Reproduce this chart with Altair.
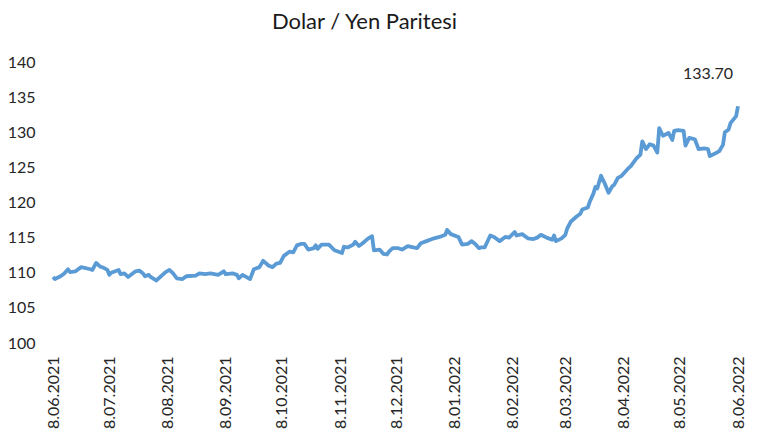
import altair as alt
import pandas as pd

dates = [
    "2021-06-08", "2021-06-09", "2021-06-12", "2021-06-14", "2021-06-16", "2021-06-17",
    "2021-06-20", "2021-06-23", "2021-06-28", "2021-06-29", "2021-07-01", "2021-07-03",
    "2021-07-05", "2021-07-07", "2021-07-08", "2021-07-09", "2021-07-13", "2021-07-14",
    "2021-07-16", "2021-07-18", "2021-07-22", "2021-07-24", "2021-07-26", "2021-07-27",
    "2021-07-29", "2021-07-30", "2021-08-02", "2021-08-07", "2021-08-09", "2021-08-11",
    "2021-08-13", "2021-08-16", "2021-08-18", "2021-08-23", "2021-08-25", "2021-08-28",
    "2021-08-31", "2021-09-02", "2021-09-04", "2021-09-07", "2021-09-08", "2021-09-12",
    "2021-09-14", "2021-09-15", "2021-09-17", "2021-09-21", "2021-09-23", "2021-09-26",
    "2021-09-28", "2021-10-01", "2021-10-03", "2021-10-05", "2021-10-07", "2021-10-09",
    "2021-10-12", "2021-10-14", "2021-10-16", "2021-10-18", "2021-10-20", "2021-10-22",
    "2021-10-25", "2021-10-26", "2021-10-27", "2021-10-29", "2021-11-02", "2021-11-05",
    "2021-11-09", "2021-11-10", "2021-11-12", "2021-11-15", "2021-11-16", "2021-11-18",
    "2021-11-20", "2021-11-23", "2021-11-25", "2021-11-26", "2021-11-29", "2021-12-01",
    "2021-12-03", "2021-12-04", "2021-12-06", "2021-12-09", "2021-12-11", "2021-12-14",
    "2021-12-17", "2021-12-19", "2021-12-21", "2021-12-24", "2021-12-27", "2021-12-28",
    "2021-12-31", "2022-01-03", "2022-01-04", "2022-01-06", "2022-01-10", "2022-01-12",
    "2022-01-15", "2022-01-17", "2022-01-19", "2022-01-21", "2022-01-22", "2022-01-24",
    "2022-01-27", "2022-01-29", "2022-02-01", "2022-02-04", "2022-02-06", "2022-02-09",
    "2022-02-10", "2022-02-13", "2022-02-16", "2022-02-19", "2022-02-21", "2022-02-23",
    "2022-02-26", "2022-03-01", "2022-03-02", "2022-03-03", "2022-03-06", "2022-03-08",
    "2022-03-09", "2022-03-11", "2022-03-14", "2022-03-16", "2022-03-17", "2022-03-20",
    "2022-03-21", "2022-03-23", "2022-03-24", "2022-03-25", "2022-03-27", "2022-03-29",
    "2022-03-31", "2022-04-02", "2022-04-03", "2022-04-05", "2022-04-07", "2022-04-10",
    "2022-04-12", "2022-04-15", "2022-04-17", "2022-04-18", "2022-04-20", "2022-04-22",
    "2022-04-24", "2022-04-26", "2022-04-27", "2022-04-29", "2022-05-02", "2022-05-04",
    "2022-05-05", "2022-05-07", "2022-05-10", "2022-05-11", "2022-05-13", "2022-05-16",
    "2022-05-18", "2022-05-21", "2022-05-23", "2022-05-24", "2022-05-27", "2022-05-29",
    "2022-05-31", "2022-06-01", "2022-06-03", "2022-06-04", "2022-06-07", "2022-06-08",
]

values = [
    109.4, 109.1, 109.5, 109.9, 110.5, 110.1,
    110.2, 110.8, 110.5, 110.4, 111.4, 110.9,
    110.7, 110.4, 109.7, 110.0, 110.4, 109.8,
    109.9, 109.4, 110.2, 110.3, 109.9, 109.5,
    109.7, 109.4, 108.9, 110.1, 110.4, 109.9,
    109.2, 109.1, 109.5, 109.6, 109.9, 109.8,
    109.9, 109.8, 109.7, 110.2, 109.8, 109.9,
    109.7, 109.2, 109.7, 109.1, 110.5, 110.8,
    111.7, 111.0, 110.8, 111.3, 111.4, 112.4,
    113.0, 112.9, 113.9, 114.1, 114.1, 113.3,
    113.5, 113.9, 113.4, 114.0, 114.0, 113.2,
    112.8, 113.7, 113.6, 114.0, 114.4, 113.8,
    114.2, 114.9, 115.2, 113.2, 113.3, 112.7,
    112.6, 113.0, 113.5, 113.5, 113.3, 113.8,
    113.6, 113.5, 114.2, 114.5, 114.8, 114.9,
    115.1, 115.4, 116.1, 115.5, 115.1, 114.0,
    114.1, 114.5, 114.1, 113.5, 113.6, 113.6,
    115.3, 115.1, 114.5, 115.1, 115.0, 115.8,
    115.3, 115.5, 114.9, 114.8, 115.0, 115.4,
    115.0, 114.7, 115.3, 114.5, 114.9, 115.4,
    116.3, 117.3, 118.0, 118.4, 119.0, 119.3,
    120.1, 121.3, 122.2, 122.0, 123.8, 122.7,
    121.4, 122.3, 122.5, 123.5, 123.8, 124.7,
    125.2, 126.3, 126.8, 128.7, 127.6, 128.3,
    128.1, 127.1, 130.6, 129.5, 129.9, 128.9,
    130.2, 130.3, 130.2, 128.1, 129.2, 129.0,
    127.6, 127.7, 127.6, 126.6, 127.0, 127.3,
    128.2, 130.0, 130.4, 131.3, 132.3, 133.7,
]

y_ticks = [100, 105, 110, 115, 120, 125, 130, 135, 140]
tick_months = [
    (2021, 6), (2021, 7), (2021, 8), (2021, 9), (2021, 10), (2021, 11), (2021, 12),
    (2022, 1), (2022, 2), (2022, 3), (2022, 4), (2022, 5), (2022, 6),
]
last_label = "133.70"

df = pd.DataFrame({"date": dates, "value": values})
label_df = pd.DataFrame({"date": [dates[-1]], "value": [values[-1]], "label": [last_label]})

font = "Lato"
txt = "#262626"

x_enc = alt.X(
    "date:T",
    scale=alt.Scale(
        type="utc",
        domain=[alt.DateTime(year=2021, month=6, date=8, utc=True),
                alt.DateTime(year=2022, month=6, date=8, utc=True)],
    ),
    axis=alt.Axis(
        title=None,
        values=[alt.DateTime(year=y, month=m, date=8, utc=True) for y, m in tick_months],
        tickCount=20,
        labelExpr="utcFormat(datum.value, '%-d.%m.%Y')",
        labelAngle=270,
        labelAlign="right",
        labelBaseline="middle",
        labelPadding=13,
        labelFontSize=16,
        labelFont=font,
        labelColor=txt,
        domain=False,
        ticks=False,
        grid=False,
        labelOverlap=False,
        labelFlush=False,
    ),
)
y_enc = alt.Y(
    "value:Q",
    scale=alt.Scale(domain=[100, 140], zero=False, nice=False),
    axis=alt.Axis(
        title=None,
        values=y_ticks,
        tickCount=20,
        labelFontSize=16,
        labelFont=font,
        labelColor=txt,
        labelPadding=18,
        labelOverlap=False,
        labelFlush=False,
        domain=False,
        ticks=False,
        grid=False,
    ),
)

line = alt.Chart(df).mark_line(color="#5B9BD5", strokeWidth=3.8, strokeJoin="round").encode(
    x=x_enc, y=y_enc
)

label = alt.Chart(label_df).mark_text(
    font=font, fontSize=16, color=txt, dx=-30, dy=-32
).encode(x="date:T", y="value:Q", text="label:N")

chart = (
    alt.layer(line, label)
    .properties(
        width=685,
        height=281,
        autosize=alt.AutoSizeParams(type="none"),
        padding={"left": 45, "top": 54, "right": 12, "bottom": 89},
        title=alt.TitleParams(
            "Dolar / Yen Paritesi",
            font=font,
            fontSize=22,
            fontWeight="normal",
            color="#1a1a1a",
            anchor="middle",
            dx=-31,
            offset=20,
        ),
    )
    .configure_view(stroke=None)
)

chart.save("out.html", embed_options={"renderer": "svg", "actions": False})
